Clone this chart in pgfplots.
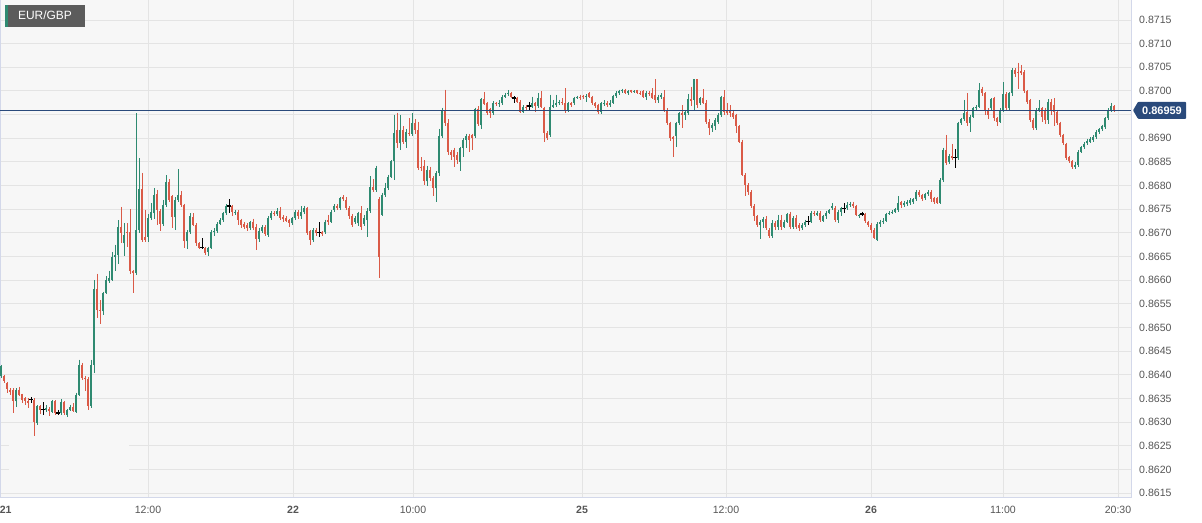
\documentclass[border=0pt]{standalone}
\usepackage{fontspec}
\setmainfont{Liberation Sans}
\usepackage{pgfplots}
\usepackage{pgfplotstable}
\pgfplotsset{compat=1.18}
\definecolor{upc}{HTML}{2F8A71}
\definecolor{dnc}{HTML}{DA5A47}
\definecolor{bgc}{HTML}{F7F7F7}
\definecolor{gridc}{HTML}{E4E4E4}
\definecolor{framec}{HTML}{D3D8EA}
\definecolor{navy}{HTML}{2A4A7B}
\definecolor{tickc}{HTML}{555555}
\definecolor{tagc}{HTML}{5C5C5C}

\pgfplotstableread{
o h l c
0.86397 0.86421 0.86393 0.86418
0.86397 0.86400 0.86383 0.86386
0.86382 0.86385 0.86361 0.86370
0.86368 0.86372 0.86358 0.86363
0.86367 0.86372 0.86320 0.86344
0.86344 0.86372 0.86332 0.86368
0.86368 0.86375 0.86355 0.86358
0.86359 0.86360 0.86340 0.86347
0.86350 0.86352 0.86336 0.86345
0.86345 0.86350 0.86330 0.86340
0.86347 0.86352 0.86340 0.86347
0.86347 0.86350 0.86270 0.86301
0.86298 0.86336 0.86294 0.86333
0.86333 0.86336 0.86318 0.86326
0.86326 0.86342 0.86315 0.86326
0.86326 0.86336 0.86322 0.86330
0.86328 0.86331 0.86313 0.86323
0.86322 0.86347 0.86319 0.86344
0.86344 0.86346 0.86316 0.86320
0.86319 0.86326 0.86314 0.86319
0.86319 0.86348 0.86316 0.86342
0.86342 0.86345 0.86315 0.86319
0.86315 0.86328 0.86310 0.86326
0.86326 0.86337 0.86324 0.86332
0.86332 0.86340 0.86322 0.86324
0.86322 0.86362 0.86320 0.86358
0.86358 0.86432 0.86355 0.86421
0.86421 0.86425 0.86390 0.86393
0.86393 0.86398 0.86365 0.86392
0.86392 0.86395 0.86325 0.86334
0.86334 0.86432 0.86330 0.86421
0.86421 0.86600 0.86404 0.86581
0.86581 0.86614 0.86520 0.86537
0.86537 0.86558 0.86508 0.86534
0.86534 0.86576 0.86527 0.86573
0.86573 0.86608 0.86570 0.86601
0.86598 0.86620 0.86595 0.86605
0.86601 0.86660 0.86598 0.86649
0.86649 0.86675 0.86620 0.86653
0.86653 0.86727 0.86635 0.86713
0.86713 0.86755 0.86678 0.86699
0.86678 0.86720 0.86652 0.86696
0.86701 0.86720 0.86671 0.86699
0.86701 0.86750 0.86612 0.86619
0.86619 0.86622 0.86573 0.86615
0.86615 0.86953 0.86610 0.86705
0.86706 0.86858 0.86700 0.86792
0.86792 0.86827 0.86680 0.86684
0.86692 0.86749 0.86680 0.86684
0.86692 0.86740 0.86680 0.86731
0.86731 0.86763 0.86727 0.86745
0.86741 0.86794 0.86730 0.86780
0.86782 0.86791 0.86717 0.86749
0.86746 0.86750 0.86703 0.86719
0.86719 0.86770 0.86715 0.86759
0.86759 0.86822 0.86755 0.86808
0.86808 0.86813 0.86765 0.86770
0.86778 0.86780 0.86710 0.86733
0.86733 0.86775 0.86705 0.86770
0.86770 0.86835 0.86765 0.86779
0.86779 0.86789 0.86755 0.86759
0.86759 0.86762 0.86668 0.86682
0.86682 0.86705 0.86665 0.86701
0.86701 0.86741 0.86698 0.86736
0.86733 0.86741 0.86714 0.86717
0.86717 0.86720 0.86673 0.86678
0.86678 0.86680 0.86666 0.86669
0.86669 0.86689 0.86665 0.86669
0.86669 0.86671 0.86653 0.86658
0.86660 0.86671 0.86651 0.86668
0.86668 0.86705 0.86665 0.86701
0.86701 0.86710 0.86694 0.86703
0.86703 0.86722 0.86700 0.86719
0.86719 0.86731 0.86716 0.86727
0.86727 0.86745 0.86724 0.86741
0.86741 0.86760 0.86738 0.86757
0.86757 0.86771 0.86741 0.86757
0.86756 0.86759 0.86735 0.86744
0.86742 0.86749 0.86738 0.86745
0.86745 0.86748 0.86717 0.86728
0.86728 0.86730 0.86710 0.86717
0.86719 0.86722 0.86708 0.86713
0.86717 0.86720 0.86703 0.86710
0.86710 0.86726 0.86705 0.86722
0.86724 0.86730 0.86705 0.86710
0.86713 0.86719 0.86664 0.86687
0.86687 0.86710 0.86680 0.86703
0.86703 0.86716 0.86700 0.86712
0.86712 0.86716 0.86694 0.86698
0.86696 0.86735 0.86692 0.86731
0.86731 0.86747 0.86728 0.86742
0.86742 0.86746 0.86735 0.86739
0.86739 0.86752 0.86735 0.86746
0.86746 0.86754 0.86727 0.86731
0.86733 0.86737 0.86724 0.86730
0.86731 0.86735 0.86722 0.86726
0.86727 0.86730 0.86713 0.86720
0.86720 0.86733 0.86717 0.86731
0.86731 0.86748 0.86727 0.86745
0.86745 0.86748 0.86730 0.86735
0.86735 0.86756 0.86730 0.86745
0.86744 0.86757 0.86740 0.86752
0.86752 0.86755 0.86696 0.86699
0.86703 0.86705 0.86675 0.86685
0.86685 0.86710 0.86680 0.86706
0.86706 0.86710 0.86694 0.86699
0.86701 0.86722 0.86692 0.86701
0.86701 0.86703 0.86693 0.86698
0.86701 0.86728 0.86697 0.86724
0.86727 0.86738 0.86717 0.86724
0.86724 0.86749 0.86720 0.86745
0.86749 0.86760 0.86745 0.86756
0.86757 0.86760 0.86748 0.86752
0.86752 0.86776 0.86748 0.86773
0.86775 0.86780 0.86768 0.86771
0.86770 0.86775 0.86748 0.86752
0.86752 0.86756 0.86730 0.86735
0.86735 0.86740 0.86713 0.86717
0.86724 0.86736 0.86718 0.86731
0.86720 0.86745 0.86715 0.86742
0.86742 0.86756 0.86706 0.86713
0.86719 0.86738 0.86715 0.86731
0.86728 0.86752 0.86692 0.86747
0.86747 0.86820 0.86742 0.86798
0.86798 0.86813 0.86786 0.86791
0.86791 0.86842 0.86787 0.86837
0.86771 0.86775 0.86604 0.86650
0.86738 0.86785 0.86735 0.86780
0.86780 0.86806 0.86775 0.86794
0.86794 0.86823 0.86790 0.86819
0.86819 0.86854 0.86815 0.86851
0.86851 0.86950 0.86812 0.86911
0.86918 0.86954 0.86880 0.86889
0.86889 0.86949 0.86875 0.86918
0.86918 0.86925 0.86888 0.86893
0.86893 0.86920 0.86879 0.86914
0.86912 0.86942 0.86905 0.86909
0.86910 0.86953 0.86905 0.86933
0.86933 0.86940 0.86910 0.86918
0.86918 0.86935 0.86833 0.86837
0.86839 0.86860 0.86830 0.86837
0.86842 0.86854 0.86802 0.86809
0.86809 0.86842 0.86800 0.86833
0.86832 0.86840 0.86810 0.86816
0.86816 0.86820 0.86777 0.86794
0.86794 0.86830 0.86766 0.86826
0.86826 0.86920 0.86820 0.86904
0.86904 0.86965 0.86900 0.86960
0.86960 0.87003 0.86925 0.86932
0.86932 0.86940 0.86865 0.86870
0.86870 0.86875 0.86855 0.86865
0.86876 0.86880 0.86840 0.86861
0.86865 0.86870 0.86845 0.86854
0.86850 0.86882 0.86830 0.86879
0.86879 0.86900 0.86860 0.86897
0.86897 0.86910 0.86880 0.86904
0.86905 0.86908 0.86872 0.86897
0.86907 0.86910 0.86875 0.86900
0.86904 0.86965 0.86900 0.86961
0.86961 0.86968 0.86925 0.86930
0.86928 0.86985 0.86920 0.86982
0.86982 0.86998 0.86970 0.86972
0.86974 0.86977 0.86950 0.86954
0.86961 0.86965 0.86942 0.86953
0.86953 0.86978 0.86950 0.86974
0.86974 0.86977 0.86968 0.86972
0.86972 0.86980 0.86966 0.86975
0.86974 0.86991 0.86970 0.86988
0.86988 0.86996 0.86985 0.86992
0.86994 0.87001 0.86990 0.86995
0.86995 0.86998 0.86985 0.86988
0.86985 0.86989 0.86974 0.86985
0.86985 0.86988 0.86974 0.86977
0.86977 0.86980 0.86953 0.86956
0.86956 0.86970 0.86953 0.86967
0.86967 0.86970 0.86958 0.86963
0.86968 0.86977 0.86960 0.86968
0.86967 0.86988 0.86963 0.86975
0.86974 0.86977 0.86956 0.86968
0.86968 0.86996 0.86965 0.86985
0.86985 0.86999 0.86963 0.86967
0.86963 0.86967 0.86893 0.86911
0.86911 0.86915 0.86896 0.86900
0.86907 0.86992 0.86903 0.86967
0.86967 0.86981 0.86963 0.86970
0.86970 0.86992 0.86966 0.86974
0.86974 0.86981 0.86970 0.86977
0.86977 0.86985 0.86970 0.86974
0.86974 0.87006 0.86954 0.86960
0.86960 0.86977 0.86956 0.86974
0.86974 0.86977 0.86966 0.86970
0.86974 0.86988 0.86970 0.86985
0.86985 0.86990 0.86982 0.86987
0.86988 0.86992 0.86980 0.86987
0.86989 0.86992 0.86982 0.86987
0.86987 0.86993 0.86977 0.86989
0.86995 0.86998 0.86985 0.86988
0.86987 0.86990 0.86970 0.86974
0.86974 0.86977 0.86963 0.86968
0.86970 0.86973 0.86952 0.86956
0.86956 0.86977 0.86952 0.86974
0.86972 0.86980 0.86968 0.86975
0.86975 0.86978 0.86966 0.86970
0.86970 0.86980 0.86966 0.86975
0.86975 0.86992 0.86972 0.86989
0.86989 0.86999 0.86986 0.86996
0.86995 0.87003 0.86992 0.87000
0.86999 0.87005 0.86996 0.87001
0.87002 0.87005 0.86993 0.86995
0.86995 0.87001 0.86992 0.86999
0.87001 0.87003 0.86995 0.86998
0.86998 0.87002 0.86995 0.87000
0.87001 0.87003 0.86993 0.86996
0.86996 0.86999 0.86991 0.86995
0.86999 0.87001 0.86985 0.86988
0.86988 0.86999 0.86980 0.86996
0.86996 0.86999 0.86990 0.86994
0.86996 0.87006 0.86982 0.86985
0.86992 0.87025 0.86975 0.86981
0.86980 0.86992 0.86975 0.86988
0.86988 0.86995 0.86984 0.86992
0.86988 0.87002 0.86955 0.86960
0.86960 0.86963 0.86928 0.86932
0.86932 0.86935 0.86895 0.86900
0.86902 0.86905 0.86861 0.86898
0.86904 0.86935 0.86882 0.86932
0.86932 0.86956 0.86928 0.86953
0.86953 0.86970 0.86922 0.86949
0.86949 0.86960 0.86939 0.86956
0.86953 0.86994 0.86950 0.86982
0.86982 0.87009 0.86968 0.86978
0.86980 0.87025 0.86960 0.87025
0.87025 0.87025 0.86965 0.86970
0.86974 0.86988 0.86970 0.86985
0.86985 0.87004 0.86972 0.86975
0.86975 0.86980 0.86930 0.86935
0.86935 0.86940 0.86907 0.86921
0.86921 0.86932 0.86914 0.86928
0.86925 0.86942 0.86918 0.86939
0.86935 0.86953 0.86930 0.86949
0.86949 0.86990 0.86945 0.86987
0.86987 0.87002 0.86950 0.86956
0.86960 0.86975 0.86950 0.86954
0.86958 0.86970 0.86945 0.86953
0.86953 0.86960 0.86940 0.86946
0.86949 0.86952 0.86912 0.86925
0.86925 0.86928 0.86890 0.86893
0.86893 0.86897 0.86820 0.86823
0.86823 0.86826 0.86777 0.86801
0.86801 0.86805 0.86780 0.86787
0.86787 0.86790 0.86752 0.86756
0.86756 0.86760 0.86725 0.86735
0.86735 0.86738 0.86713 0.86717
0.86717 0.86728 0.86687 0.86724
0.86724 0.86733 0.86710 0.86729
0.86729 0.86735 0.86705 0.86710
0.86706 0.86710 0.86690 0.86694
0.86694 0.86727 0.86689 0.86720
0.86720 0.86725 0.86707 0.86713
0.86713 0.86738 0.86705 0.86728
0.86728 0.86738 0.86705 0.86713
0.86713 0.86728 0.86710 0.86724
0.86724 0.86742 0.86720 0.86740
0.86740 0.86745 0.86708 0.86713
0.86713 0.86735 0.86708 0.86731
0.86731 0.86737 0.86708 0.86713
0.86717 0.86720 0.86703 0.86710
0.86710 0.86720 0.86706 0.86717
0.86717 0.86728 0.86713 0.86724
0.86724 0.86735 0.86717 0.86724
0.86724 0.86746 0.86720 0.86743
0.86743 0.86747 0.86735 0.86740
0.86738 0.86747 0.86735 0.86743
0.86743 0.86747 0.86724 0.86728
0.86726 0.86738 0.86722 0.86735
0.86735 0.86747 0.86730 0.86743
0.86743 0.86750 0.86740 0.86748
0.86752 0.86763 0.86748 0.86757
0.86752 0.86756 0.86724 0.86728
0.86728 0.86748 0.86721 0.86745
0.86745 0.86755 0.86735 0.86752
0.86752 0.86763 0.86743 0.86752
0.86752 0.86765 0.86748 0.86759
0.86759 0.86766 0.86755 0.86761
0.86761 0.86766 0.86752 0.86756
0.86756 0.86759 0.86735 0.86738
0.86735 0.86740 0.86732 0.86738
0.86740 0.86745 0.86735 0.86740
0.86740 0.86743 0.86720 0.86726
0.86724 0.86726 0.86712 0.86717
0.86717 0.86720 0.86700 0.86706
0.86706 0.86710 0.86686 0.86689
0.86685 0.86722 0.86682 0.86719
0.86719 0.86728 0.86713 0.86722
0.86722 0.86731 0.86718 0.86726
0.86726 0.86743 0.86722 0.86740
0.86740 0.86746 0.86738 0.86743
0.86743 0.86748 0.86740 0.86745
0.86745 0.86753 0.86742 0.86750
0.86748 0.86777 0.86745 0.86764
0.86766 0.86768 0.86752 0.86759
0.86759 0.86768 0.86755 0.86764
0.86762 0.86770 0.86757 0.86766
0.86763 0.86773 0.86759 0.86770
0.86766 0.86774 0.86762 0.86771
0.86771 0.86790 0.86768 0.86787
0.86787 0.86790 0.86776 0.86780
0.86780 0.86783 0.86768 0.86771
0.86773 0.86785 0.86770 0.86782
0.86782 0.86790 0.86778 0.86787
0.86787 0.86790 0.86766 0.86771
0.86773 0.86776 0.86762 0.86766
0.86773 0.86776 0.86762 0.86764
0.86764 0.86815 0.86762 0.86811
0.86811 0.86880 0.86808 0.86875
0.86875 0.86907 0.86843 0.86847
0.86849 0.86866 0.86845 0.86863
0.86863 0.86888 0.86855 0.86858
0.86860 0.86877 0.86837 0.86860
0.86858 0.86935 0.86855 0.86932
0.86932 0.86943 0.86928 0.86940
0.86940 0.86981 0.86937 0.86954
0.86956 0.86995 0.86925 0.86932
0.86932 0.86950 0.86914 0.86946
0.86946 0.86966 0.86942 0.86963
0.86963 0.86970 0.86960 0.86967
0.86967 0.87016 0.86963 0.87001
0.87004 0.87009 0.86990 0.86995
0.86995 0.86998 0.86949 0.86960
0.86960 0.86963 0.86940 0.86950
0.86963 0.86985 0.86958 0.86982
0.86985 0.86988 0.86937 0.86942
0.86942 0.86945 0.86925 0.86935
0.86935 0.86963 0.86932 0.86960
0.86960 0.87018 0.86956 0.86994
0.86994 0.86998 0.86958 0.86963
0.86963 0.86998 0.86960 0.86995
0.86995 0.87048 0.86990 0.87044
0.87044 0.87048 0.87030 0.87036
0.87041 0.87060 0.87005 0.87037
0.87043 0.87055 0.87033 0.87037
0.87041 0.87044 0.86995 0.86999
0.86999 0.87002 0.86972 0.86977
0.86980 0.86983 0.86934 0.86939
0.86939 0.86942 0.86917 0.86921
0.86921 0.86963 0.86917 0.86960
0.86960 0.86980 0.86955 0.86963
0.86963 0.86966 0.86935 0.86946
0.86960 0.86963 0.86930 0.86939
0.86939 0.86982 0.86930 0.86977
0.86977 0.86982 0.86950 0.86958
0.86970 0.86985 0.86925 0.86956
0.86956 0.86960 0.86928 0.86932
0.86932 0.86935 0.86903 0.86907
0.86907 0.86910 0.86885 0.86889
0.86888 0.86891 0.86855 0.86858
0.86860 0.86863 0.86847 0.86851
0.86851 0.86854 0.86835 0.86839
0.86840 0.86849 0.86836 0.86844
0.86844 0.86875 0.86840 0.86872
0.86872 0.86884 0.86868 0.86881
0.86881 0.86892 0.86877 0.86888
0.86889 0.86899 0.86885 0.86895
0.86893 0.86902 0.86889 0.86898
0.86897 0.86906 0.86893 0.86902
0.86902 0.86917 0.86898 0.86914
0.86914 0.86922 0.86910 0.86919
0.86919 0.86929 0.86915 0.86926
0.86923 0.86945 0.86920 0.86942
0.86942 0.86963 0.86938 0.86960
0.86960 0.86975 0.86956 0.86968
0.86968 0.86970 0.86956 0.86959
}\ohlc

\begin{document}
\begin{tikzpicture}
\useasboundingbox (0,0) rectangle (1202bp,523bp);
\begin{axis}[
  at={(0bp,26bp)}, anchor=south west,
  width=1131bp, height=497bp, scale only axis,
  xmin=0, xmax=1131,
  ymin=0.861416, ymax=0.871923,
  axis background/.style={fill=bgc},
  axis line style={draw=framec, line width=1bp},
  xtick={148,293,413,582,726,871,1003,1118},
  xticklabels={12:00,\textbf{22},10:00,\textbf{25},12:00,\textbf{26},11:00,20:30},
  extra x ticks={5.75},
  extra x tick labels={\textbf{21}},
  extra x tick style={grid=none},
  xticklabel style={anchor=north, inner sep=0pt, yshift=-9bp, font=\fontsize{10.6}{12}\selectfont, text=tickc},
  ytick={0.8615,0.8620,0.8625,0.8630,0.8635,0.8640,0.8645,0.8650,0.8655,0.8660,0.8665,0.8670,0.8675,0.8680,0.8685,0.8690,0.8695,0.8700,0.8705,0.8710,0.8715},
  yticklabels={0.8615,0.8620,0.8625,0.8630,0.8635,0.8640,0.8645,0.8650,0.8655,0.8660,0.8665,0.8670,0.8675,0.8680,0.8685,0.8690,{},0.8700,0.8705,0.8710,0.8715},
  yticklabel pos=right,
  yticklabel style={anchor=west, inner sep=0pt, xshift=8bp, font=\fontsize{10.6}{12}\selectfont, text=tickc},
  tick style={draw=none},
  major tick length=0pt,
  grid=major,
  major grid style={draw=gridc, line width=1bp},
]
% blank patch hiding grid lines, bottom left
\fill[bgc] (axis cs:8.5,0.86279) rectangle (axis cs:128.5,0.86173);
% up candles
\addplot[restrict expr to domain={\thisrow{c}-\thisrow{o}}{0.000001:1}, forget plot, -, draw=upc, line width=1bp, line cap=butt,
  quiver={u=0, v={\thisrow{l}-\thisrow{h}}}]
  table[x expr=\coordindex*3+1, y=h] {\ohlc};
\addplot[restrict expr to domain={\thisrow{c}-\thisrow{o}}{0.000001:1}, forget plot, -, draw=upc, line width=2.6bp, line cap=butt,
  quiver={u=0, v={\thisrow{c}-\thisrow{o}}}]
  table[x expr=\coordindex*3+1, y=o] {\ohlc};
% down candles
\addplot[restrict expr to domain={\thisrow{c}-\thisrow{o}}{-1:-0.000001}, forget plot, -, draw=dnc, line width=1bp, line cap=butt,
  quiver={u=0, v={\thisrow{l}-\thisrow{h}}}]
  table[x expr=\coordindex*3+1, y=h] {\ohlc};
\addplot[restrict expr to domain={\thisrow{c}-\thisrow{o}}{-1:-0.000001}, forget plot, -, draw=dnc, line width=2.6bp, line cap=butt,
  quiver={u=0, v={\thisrow{c}-\thisrow{o}}}]
  table[x expr=\coordindex*3+1, y=o] {\ohlc};
% doji (black crosses)
\addplot[restrict expr to domain={\thisrow{c}-\thisrow{o}}{-0.0000005:0.0000005}, forget plot, -, draw=black, line width=1bp, line cap=butt,
  quiver={u=0, v={\thisrow{l}-\thisrow{h}}}]
  table[x expr=\coordindex*3+1, y=h] {\ohlc};
\addplot[restrict expr to domain={\thisrow{c}-\thisrow{o}}{-0.0000005:0.0000005}, forget plot, -, draw=black, line width=1.2bp, line cap=butt,
  quiver={u=4, v=0}]
  table[x expr=\coordindex*3-1, y=o] {\ohlc};
% current price line
\addplot[navy, line width=1bp, forget plot] coordinates {(0,0.86959) (1131,0.86959)};
\coordinate (pl) at (axis cs:1131,0.86959);
\end{axis}
\fill[navy, rounded corners=0.8bp] ([xshift=2bp]pl) -- ++(5bp,8.5bp) -- ++(48bp,0) -- ++(0,-17bp) -- ++(-48bp,0) -- cycle;
\node[text=white, inner sep=0pt, font=\bfseries\fontsize{11}{13}\selectfont] at ([xshift=31bp]pl) {0.86959};
\fill[tagc] (5bp,496.3bp) rectangle (85bp,518bp);
\fill[upc] (5bp,496.3bp) rectangle (7.5bp,518bp);
\node[text=white, inner sep=0pt, anchor=base, font=\fontsize{12}{14}\selectfont] at (45bp,503bp) {EUR/GBP};
\end{tikzpicture}
\end{document}
